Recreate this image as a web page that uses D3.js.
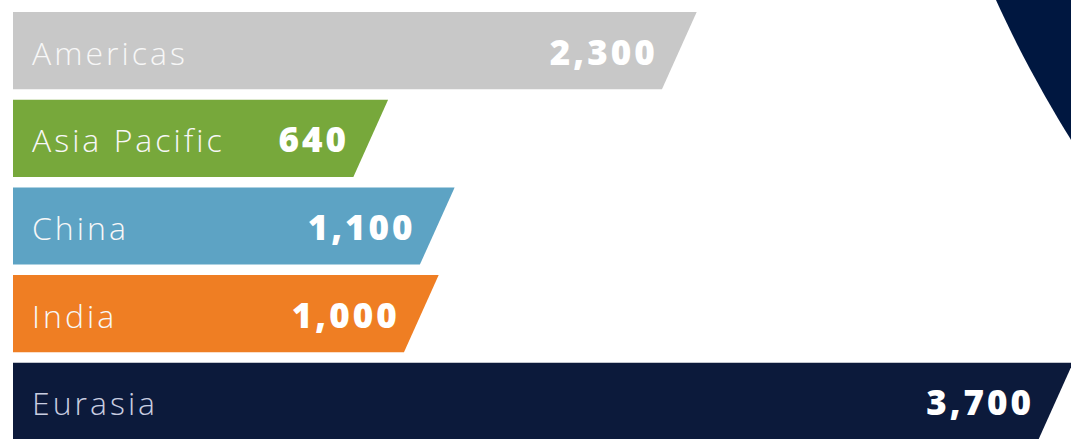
<!DOCTYPE html>
<html>
<head>
<meta charset="utf-8">
<script src="https://cdn.jsdelivr.net/npm/d3@7"></script>
<style>
  body { margin: 0; background: #fff; }
  svg { display: block; }
</style>
</head>
<body>
<svg id="chart" width="1071" height="439"></svg>
<script>
// data
const regions = ['Americas', 'Asia Pacific', 'China', 'India', 'Eurasia'];
const values = [2300, 640, 1100, 1000, 3700];
const colors = ['#c8c8c8', '#77a83b', '#5da3c4', '#ef7e23', '#0c1a3b'];

const width = 1071, height = 439;
const left = 13;

const svg = d3.select('#chart');

// decorative navy disc in the top right corner
svg.append('circle')
  .attr('cx', 2076)
  .attr('cy', -490)
  .attr('r', 1186)
  .attr('fill', '#001740');

const y = d3.scaleBand()
  .domain(regions)
  .range([12, 440])
  .paddingInner(0.12)
  .paddingOuter(0);

// bar length - the original isn't proportional, a pow scale fits it best
const x = d3.scalePow()
  .exponent(1.5)
  .domain([0, 3700])
  .range([322, 1060]);

const data = regions.map((r, i) => ({ region: r, value: values[i], color: colors[i] }));
const slant = y.bandwidth() * 0.45;

const g = svg.append('g').attr('class', 'bars');

g.selectAll('path')
  .data(data)
  .join('path')
  .attr('fill', d => d.color)
  .attr('d', d => {
    const y0 = y(d.region), y1 = y0 + y.bandwidth();
    const xr = left + x(d.value);
    const p = d3.path();
    p.moveTo(left, y0);
    p.lineTo(xr, y0);
    p.lineTo(xr - slant, y1);
    p.lineTo(left, y1);
    p.closePath();
    return p.toString();
  });

// region names
g.selectAll('text.label')
  .data(data)
  .join('text')
  .attr('class', 'label')
  .attr('x', left + 19)
  .attr('y', d => y(d.region) + y.bandwidth() / 2 + 14)
  .attr('fill', d => d.region === 'Eurasia' ? '#c9cde0' : '#f7f7f7')
  .style('font-family', '"Open Sans", sans-serif')
  .style('font-weight', 300)
  .style('font-size', '32px')
  .style('letter-spacing', '3px')
  .text(d => d.region);

// values
g.selectAll('text.value')
  .data(data)
  .join('text')
  .attr('class', 'value')
  .attr('x', d => left + x(d.value) - 39)
  .attr('y', d => y(d.region) + y.bandwidth() / 2 + 14)
  .attr('text-anchor', 'end')
  .attr('fill', '#ffffff')
  .style('font-family', '"Open Sans", sans-serif')
  .style('font-weight', 800)
  .style('font-size', '35px')
  .style('letter-spacing', '3px')
  .text(d => d3.format(',')(d.value));
</script>
</body>
</html>
